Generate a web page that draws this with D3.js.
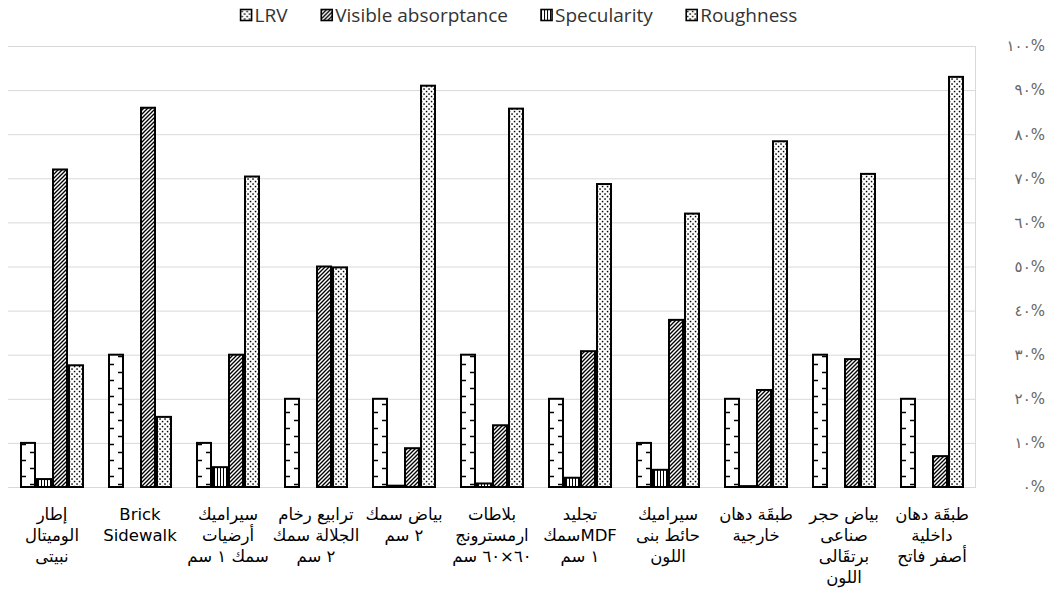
<!DOCTYPE html>
<html>
<head>
<meta charset="utf-8">
<script src="https://cdn.jsdelivr.net/npm/d3@7"></script>
<style>
  body { margin: 0; background: #fff; }
  svg { display: block; }
</style>
</head>
<body>
<div id="chart"></div>
<script>
// category labels, one entry per line of the wrapped label
const categories = [
  ["إطار", "الوميتال", "نبيتى"],
  ["Brick", "Sidewalk"],
  ["سيراميك", "أرضيات", "سمك ١ سم"],
  ["ترابيع رخام", "الجلالة سمك", "٢ سم"],
  ["بياض سمك", "٢ سم"],
  ["بلاطات", "ارمسترونج", "٦٠×٦٠ سم"],
  ["تجليد", "سمكMDF", "١ سم"],
  ["سيراميك", "حائط بنى", "اللون"],
  ["طبقَة دهان", "خارجية"],
  ["بياض حجر", "صناعى", "برتقَالى", "اللون"],
  ["طبقَة دهان", "داخلية", "أصفر فاتح"]
];

// percent values
const lrv       = [10, 30, 10, 20, 20, 30, 20, 10, 20, 30, 20];
const visible   = [72, 86, 30, 50, 8.8, 14, 30.8, 37.9, 22, 29, 7];
const specular  = [1.8, 0, 4.5, 0, 0.3, 0.8, 2.1, 3.9, 0.2, 0, 0];
const roughness = [27.6, 15.9, 70.4, 49.8, 91, 85.8, 68.7, 62, 78.4, 71, 93];

const yTicks = ["٠%", "١٠%", "٢٠%", "٣٠%", "٤٠%", "٥٠%", "٦٠%", "٧٠%", "٨٠%", "٩٠%", "١٠٠%"];

const series = [
  { key: "LRV", values: lrv, pattern: "pat-dash" },
  { key: "Visible absorptance", values: visible, pattern: "pat-diag" },
  { key: "Specularity", values: specular, pattern: "pat-vert" },
  { key: "Roughness", values: roughness, pattern: "pat-dots" }
];
// bars sit in this order inside each group
const barOrder = ["LRV", "Specularity", "Visible absorptance", "Roughness"];

const width = 1051, height = 590;
const plot = { left: 8, right: 976, top: 46, bottom: 487 };

const svg = d3.select("#chart").append("svg")
  .attr("width", width)
  .attr("height", height);

// fill patterns
const defs = svg.append("defs");

// short dashes hugging the left and right edges of each bar, alternating
const pDash = defs.append("pattern").attr("id", "pat-dash")
  .attr("patternUnits", "userSpaceOnUse").attr("x", 4)
  .attr("width", 16).attr("height", 16);
pDash.append("rect").attr("width", 16).attr("height", 16).attr("fill", "#fff");
pDash.append("path").attr("d", "M2,4.5H7M9,12.5H14").attr("stroke", "#000").attr("stroke-width", 1.7);

const pDiag = defs.append("pattern").attr("id", "pat-diag")
  .attr("patternUnits", "userSpaceOnUse").attr("width", 4).attr("height", 4);
pDiag.append("rect").attr("width", 4).attr("height", 4).attr("fill", "#fff");
pDiag.append("path").attr("d", "M0,4L4,0M-1,1L1,-1M3,5L5,3")
  .attr("stroke", "#000").attr("stroke-width", 1.35);

const pVert = defs.append("pattern").attr("id", "pat-vert")
  .attr("patternUnits", "userSpaceOnUse").attr("width", 3).attr("height", 3);
pVert.append("rect").attr("width", 3).attr("height", 3).attr("fill", "#fff");
pVert.append("rect").attr("x", 0).attr("width", 1).attr("height", 3).attr("fill", "#000");

const pDots = defs.append("pattern").attr("id", "pat-dots")
  .attr("patternUnits", "userSpaceOnUse").attr("width", 5).attr("height", 5);
pDots.append("rect").attr("width", 5).attr("height", 5).attr("fill", "#fff");
pDots.append("rect").attr("x", 0.8).attr("y", 0.8).attr("width", 1.5).attr("height", 1.5).attr("fill", "#000");
pDots.append("rect").attr("x", 3.3).attr("y", 3.3).attr("width", 1.5).attr("height", 1.5).attr("fill", "#000");

// scales
const x0 = d3.scaleBand()
  .domain(d3.range(categories.length))
  .range([plot.left, plot.right]);

const x1 = d3.scaleBand()
  .domain(barOrder)
  .range([13, 75])
  .paddingInner(0.125);

const y = d3.scaleLinear()
  .domain([0, 100])
  .range([plot.bottom, plot.top]);

// gridlines
svg.append("g")
  .selectAll("line")
  .data(d3.range(0, 101, 10))
  .join("line")
  .attr("x1", plot.left)
  .attr("x2", plot.right - 1)
  .attr("y1", d => y(d) + 0.5)
  .attr("y2", d => y(d) + 0.5)
  .attr("stroke", "#d9d9d9")
  .attr("stroke-width", 1);

svg.append("line")
  .attr("x1", plot.right - 0.5).attr("x2", plot.right - 0.5)
  .attr("y1", plot.top).attr("y2", plot.bottom + 1)
  .attr("stroke", "#d9d9d9");

// value axis on the right
const yAxis = svg.append("g")
  .attr("transform", `translate(${plot.right + 69},0)`)
  .call(d3.axisRight(y).tickValues(d3.range(0, 101, 10)).tickSize(0).tickPadding(0)
    .tickFormat((d, i) => yTicks[i]));
yAxis.select(".domain").remove();
yAxis.selectAll("text")
  .attr("text-anchor", "end")
  .attr("fill", "#666")
  .style("font-family", "DejaVu Sans")
  .style("font-size", "15px");

// bars
const byKey = {};
series.forEach(s => byKey[s.key] = s);

const groups = svg.append("g")
  .selectAll("g")
  .data(categories.map((c, i) => i))
  .join("g")
  .attr("transform", i => `translate(${x0(i)},0)`);

groups.selectAll("rect")
  .data(i => barOrder.map(k => ({ key: k, value: byKey[k].values[i] })))
  .join("rect")
  .filter(d => d.value > 0)
  .attr("x", d => x1(d.key))
  .attr("y", d => y(d.value))
  .attr("width", x1.bandwidth())
  .attr("height", d => y(0) - y(d.value))
  .attr("fill", d => `url(#${byKey[d.key].pattern})`)
  .attr("stroke", "#000")
  .attr("stroke-width", 2);

// category labels
const labels = svg.append("g")
  .selectAll("text")
  .data(categories)
  .join("text")
  .attr("x", (d, i) => x0(i) + x0.bandwidth() / 2)
  .attr("y", 520)
  .attr("text-anchor", "middle")
  .attr("fill", "#000")
  .style("font-family", "DejaVu Sans")
  .style("font-size", "16.5px");

labels.selectAll("tspan")
  .data(d => d)
  .join("tspan")
  .attr("x", function () { return this.parentNode.getAttribute("x"); })
  .attr("dy", (d, i) => i === 0 ? 0 : 21)
  .text(d => d);

// legend
const legend = svg.append("g").attr("transform", "translate(0,15)");
const items = legend.selectAll("g")
  .data(series)
  .join("g");

items.append("rect")
  .attr("y", -5.5)
  .attr("width", 11)
  .attr("height", 11)
  .attr("fill", d => d.key === "LRV" ? "url(#pat-dots)" : `url(#${d.pattern})`)
  .attr("stroke", "#000")
  .attr("stroke-width", 1.6);

items.append("text")
  .attr("x", 14)
  .attr("dy", "0.35em")
  .attr("fill", "#333")
  .style("font-family", "Open Sans")
  .style("font-size", "19px")
  .text(d => d.key);

// lay the legend out from measured widths, centred above the plot
const gap = 33;
let cursor = 0;
const offsets = [];
items.each(function () {
  offsets.push(cursor);
  cursor += this.getBBox().width + gap;
});
const total = cursor - gap;
const start = 519 - total / 2;
items.attr("transform", (d, i) => `translate(${start + offsets[i]},0)`);
</script>
</body>
</html>
